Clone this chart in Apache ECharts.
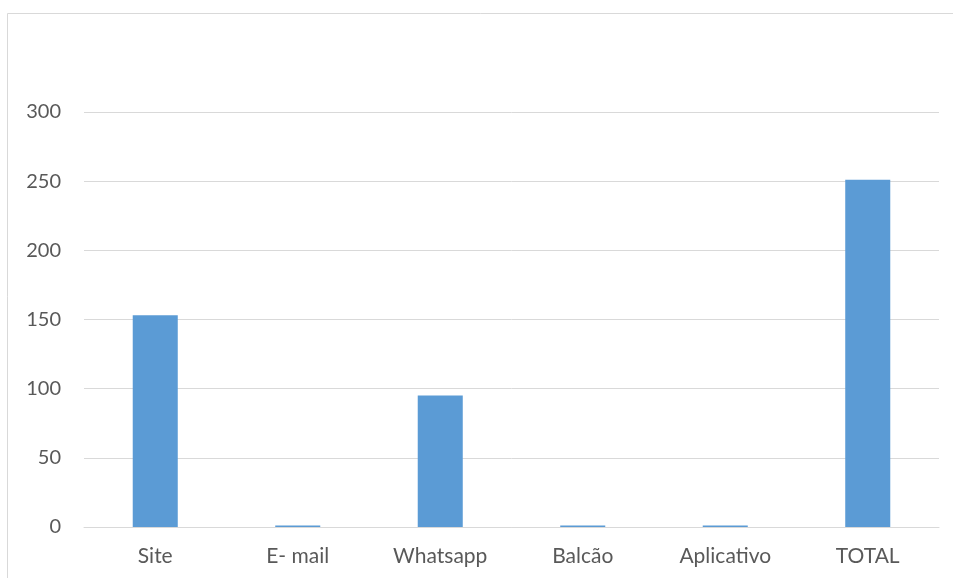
<!DOCTYPE html>
<html>
<head>
<meta charset="utf-8">
<script src="https://cdn.jsdelivr.net/npm/echarts@6/dist/echarts.min.js"></script>
<style>html,body{margin:0;padding:0;background:#fff}#c{width:953px;height:578px}</style>
</head>
<body>
<div id="c"></div>
<script>
const categories = ['Site', 'E- mail', 'Whatsapp', 'Balcão', 'Aplicativo', 'TOTAL'];
const values = [153, 1, 95, 1, 1, 251];
const yTicks = [0, 50, 100, 150, 200, 250, 300];

const chart = echarts.init(document.getElementById('c'), null, {renderer: 'canvas'});
const font = 'Lato, "Open Sans", sans-serif';
chart.setOption({
  animation: false,
  backgroundColor: '#fff',
  graphic: [{
    type: 'rect',
    shape: {x: 7.5, y: 13.5, width: 1200, height: 1200},
    style: {fill: 'none', stroke: '#d9d9d9', lineWidth: 1},
    silent: true
  }],
  grid: {left: 84, right: 14, top: 112, bottom: 51, containLabel: false},
  xAxis: {
    type: 'category',
    data: categories,
    axisLine: {show: true, lineStyle: {color: '#d9d9d9', width: 1}},
    axisTick: {show: false},
    axisLabel: {color: '#595959', fontFamily: font, fontSize: 21, margin: 19}
  },
  yAxis: {
    type: 'value',
    min: yTicks[0],
    max: yTicks[yTicks.length - 1],
    interval: yTicks[1] - yTicks[0],
    axisLine: {show: false},
    axisTick: {show: false},
    splitLine: {lineStyle: {color: '#d9d9d9', width: 1}},
    axisLabel: {color: '#595959', fontFamily: font, fontSize: 20, margin: 23}
  },
  series: [{
    type: 'bar',
    data: values,
    barWidth: '31.6%',
    itemStyle: {color: '#5b9bd5'}
  }]
});
</script>
</body>
</html>
